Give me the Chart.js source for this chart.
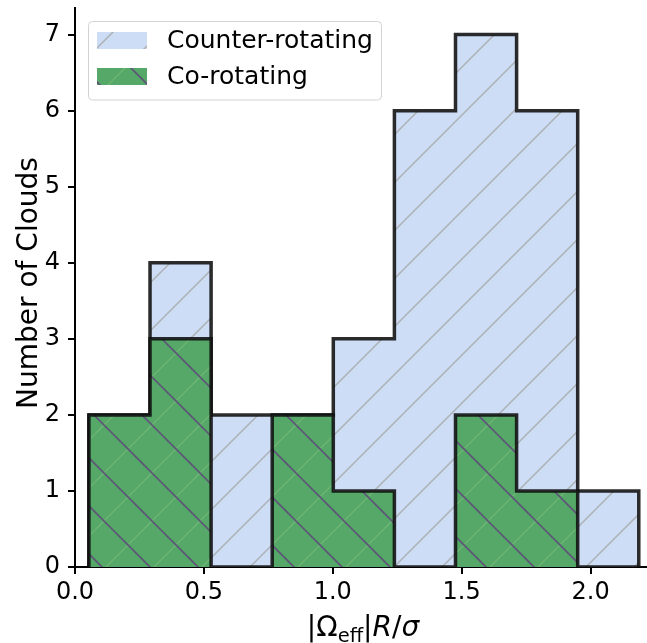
<!DOCTYPE html>
<html>
<head>
<meta charset="utf-8">
<script src="https://cdn.jsdelivr.net/npm/chart.js@4.4.0/dist/chart.umd.min.js"></script>
<style>
  html, body { margin: 0; padding: 0; background: #ffffff; }
  #wrap { width: 647px; height: 643px; }
</style>
</head>
<body>
<div id="wrap"><canvas id="c" width="647" height="643"></canvas></div>
<script>
// ---- data ----
const binEdges = [0.054, 0.291, 0.528, 0.765, 1.002, 1.239, 1.476, 1.713, 1.950, 2.187];
const counterCounts = [2, 4, 2, 2, 3, 6, 7, 6, 1];
const coCounts = [2, 3, 0, 2, 1, 0, 2, 1, 0];
const seriesLabels = ['Counter-rotating', 'Co-rotating'];
const xTickValues = [0, 0.5, 1.0, 1.5, 2.0];
const yTickValues = [0, 1, 2, 3, 4, 5, 6, 7];
const yAxisTitle = 'Number of Clouds';

// ---- styles ----
const FONT = '"DejaVu Sans", "Liberation Sans", sans-serif';
const BLUE = 'rgb(206,221,246)';
const GREEN = 'rgb(85,168,104)';
const SPACING = 48;

function makePattern(bg, lines) {
  const t = document.createElement('canvas');
  t.width = SPACING; t.height = SPACING;
  const g = t.getContext('2d');
  g.fillStyle = bg;
  g.fillRect(0, 0, SPACING, SPACING);
  lines.forEach(function (L) {
    g.strokeStyle = L.color;
    g.lineWidth = L.width;
    for (let k = -3; k <= 4; k++) {
      const c = k * SPACING + L.phase;
      g.beginPath();
      if (L.dir === '/') { // x + y = c
        g.moveTo(-20, c + 20); g.lineTo(SPACING + 20, c - SPACING - 20);
      } else {             // x - y = c
        g.moveTo(-20, -20 - c); g.lineTo(SPACING + 20, SPACING + 20 - c);
      }
      g.stroke();
    }
  });
  return document.getElementById('c').getContext('2d').createPattern(t, 'repeat');
}

const bluePattern = makePattern(BLUE, [
  { dir: '/', phase: 1, color: 'rgba(165,165,165,0.8)', width: 1.5 }
]);
const greenPattern = makePattern(GREEN, [
  { dir: '/', phase: 1, color: 'rgba(150,200,130,0.5)', width: 1.2 },
  { dir: '\\', phase: 15, color: 'rgba(95,80,120,0.95)', width: 1.6 }
]);

function stepPoints(edges, counts) {
  const pts = [{ x: edges[0], y: 0 }];
  for (let i = 0; i < counts.length; i++) pts.push({ x: edges[i], y: counts[i] });
  pts.push({ x: edges[edges.length - 1], y: 0 });
  return pts;
}

const legendPlugin = {
  id: 'mplLegend',
  afterDraw(chart) {
    const ctx = chart.ctx;
    ctx.save();
    ctx.beginPath();
    ctx.roundRect(88.5, 21.5, 293, 78.5, 4);
    ctx.fillStyle = 'rgba(255,255,255,0.8)';
    ctx.fill();
    ctx.strokeStyle = 'rgb(210,210,210)';
    ctx.lineWidth = 1;
    ctx.stroke();
    ctx.fillStyle = bluePattern;
    ctx.fillRect(97, 32, 50, 17);
    ctx.fillStyle = greenPattern;
    ctx.fillRect(97, 68, 50, 17);
    ctx.fillStyle = '#000';
    ctx.font = '25px ' + FONT;
    ctx.textBaseline = 'middle';
    ctx.textAlign = 'left';
    ctx.fillText(seriesLabels[0], 167, 41);
    ctx.fillText(seriesLabels[1], 167, 77);
    ctx.restore();
  }
};

const axisTitlePlugin = {
  id: 'axisTitles',
  afterDraw(chart) {
    const ctx = chart.ctx;
    ctx.save();
    ctx.fillStyle = '#000';
    ctx.font = '28px ' + FONT;
    ctx.translate(37, 283);
    ctx.rotate(-Math.PI / 2);
    ctx.textAlign = 'center';
    ctx.textBaseline = 'alphabetic';
    ctx.fillText(yAxisTitle, 0, 0);
    ctx.restore();

    ctx.save();
    ctx.fillStyle = '#000';
    ctx.textBaseline = 'alphabetic';
    ctx.textAlign = 'left';
    const parts = [
      { t: '|Ω', f: '28px ' + FONT, dy: 0 },
      { t: 'eff', f: '19.5px ' + FONT, dy: 6 },
      { t: '|', f: '28px ' + FONT, dy: 0 },
      { t: 'R', f: 'italic 28px ' + FONT, dy: 0 },
      { t: '/', f: '28px ' + FONT, dy: 0 },
      { t: 'σ', f: 'italic 28px ' + FONT, dy: 0 }
    ];
    let total = 0;
    parts.forEach(function (p) { ctx.font = p.f; p.w = ctx.measureText(p.t).width; total += p.w; });
    let x = 363 - total / 2;
    const base = 636;
    parts.forEach(function (p) { ctx.font = p.f; ctx.fillText(p.t, x, base + p.dy); x += p.w; });
    ctx.restore();
  }
};

new Chart(document.getElementById('c'), {
  type: 'line',
  data: {
    datasets: [
      {
        label: seriesLabels[0],
        data: stepPoints(binEdges, counterCounts),
        stepped: true,
        fill: 'origin',
        backgroundColor: bluePattern,
        borderColor: 'rgba(15,15,15,0.88)',
        borderWidth: 3.5,
        borderJoinStyle: 'miter',
        pointRadius: 0,
        order: 2
      },
      {
        label: seriesLabels[1],
        data: stepPoints(binEdges, coCounts),
        stepped: true,
        fill: 'origin',
        backgroundColor: greenPattern,
        borderColor: 'rgba(15,15,15,0.88)',
        borderWidth: 3.5,
        borderJoinStyle: 'miter',
        pointRadius: 0,
        order: 1
      }
    ]
  },
  options: {
    responsive: false,
    animation: false,
    devicePixelRatio: 1,
    layout: { padding: { left: 0, right: 1, top: 8, bottom: 0 } },
    plugins: { legend: { display: false }, tooltip: { enabled: false } },
    scales: {
      x: {
        type: 'linear',
        min: 0,
        max: 2.215,
        afterBuildTicks: function (s) { s.ticks = xTickValues.map(function (v) { return { value: v }; }); },
        afterFit: function (s) { s.height = 76; s.paddingLeft = 0; s.paddingRight = 0; },
        ticks: {
          color: '#000',
          font: { family: FONT, size: 24 },
          padding: 4,
          maxRotation: 0,
          callback: function (v) { return Number(v).toFixed(1); }
        },
        grid: { display: true, drawOnChartArea: false, drawTicks: true, tickLength: 7, color: '#000', lineWidth: 2 },
        border: { display: true, color: '#000', width: 2 }
      },
      y: {
        type: 'linear',
        min: 0,
        max: 7.35,
        afterBuildTicks: function (s) { s.ticks = yTickValues.map(function (v) { return { value: v }; }); },
        afterFit: function (s) { s.width = 75; s.paddingTop = 0; s.paddingBottom = 0; },
        ticks: {
          color: '#000',
          font: { family: FONT, size: 24 },
          padding: 8,
          callback: function (v) { return String(v); }
        },
        grid: { display: true, drawOnChartArea: false, drawTicks: true, tickLength: 7, color: '#000', lineWidth: 2 },
        border: { display: true, color: '#000', width: 2 }
      }
    }
  },
  plugins: [legendPlugin, axisTitlePlugin]
});
</script>
</body>
</html>
